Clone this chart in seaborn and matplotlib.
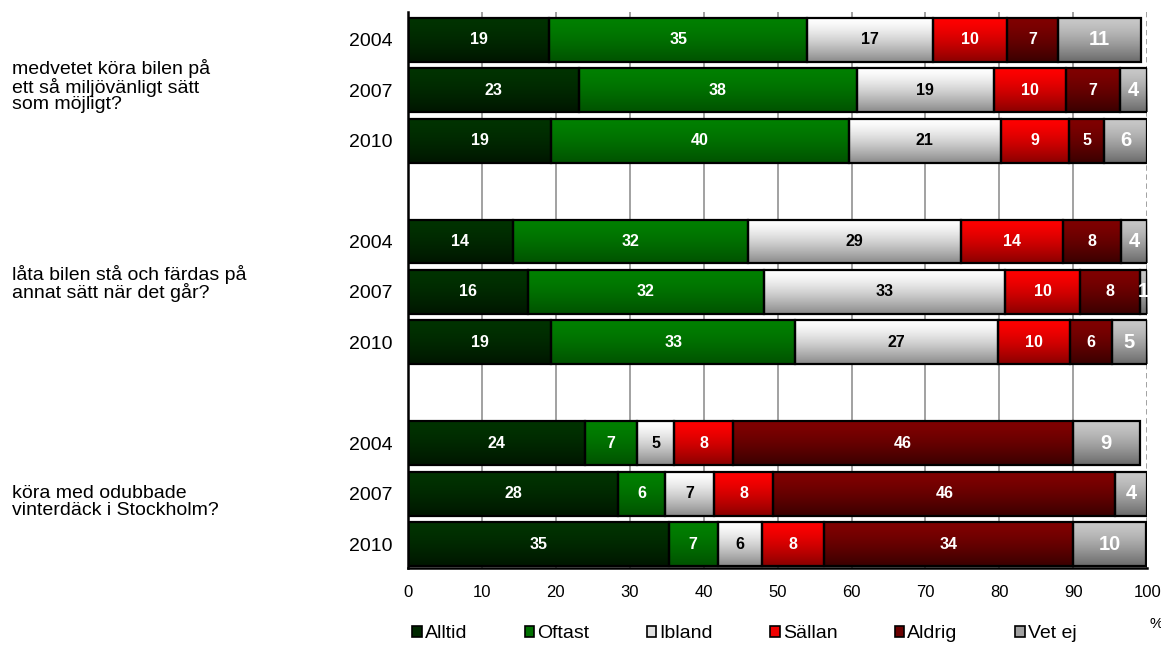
import matplotlib
matplotlib.use("Agg")
import matplotlib.pyplot as plt
import matplotlib.transforms as mtransforms
from matplotlib.colors import to_rgb
from matplotlib.patches import Patch
import seaborn as sns
import numpy as np
import pandas as pd

sns.set_style("white")
plt.rcParams['font.family'] = ['Liberation Sans', 'DejaVu Sans']
plt.rcParams['text.color'] = 'black'
plt.rcParams['xtick.color'] = 'black'
plt.rcParams['ytick.color'] = 'black'

categories = ['Alltid', 'Oftast', 'Ibland', 'Sällan', 'Aldrig', 'Vet ej']
years = ['2004', '2007', '2010']
questions = ['medvetet köra bilen på\nett så miljövänligt sätt\nsom möjligt?',
             'låta bilen stå och färdas på\nannat sätt när det går?',
             'köra med odubbade\nvinterdäck i Stockholm?']

# one value per question/year row, in order q1-2004 .. q3-2010
alltid = [19.1, 23.1, 19.4, 14.2, 16.3, 19.4, 24.0, 28.4, 35.3]
oftast = [34.9, 37.6, 40.2, 31.8, 31.8, 33.0, 7.0, 6.4, 6.6]
ibland = [17.0, 18.6, 20.6, 28.8, 32.7, 27.4, 5.0, 6.6, 6.0]
sallan = [10.0, 9.7, 9.2, 13.8, 10.1, 9.8, 8.0, 8.0, 8.4]
aldrig = [7.0, 7.3, 4.8, 7.8, 8.1, 5.6, 45.9, 46.3, 33.7]
vet_ej = [11.1, 3.7, 5.8, 3.6, 1.0, 4.8, 9.1, 4.3, 9.9]

series = [alltid, oftast, ibland, sallan, aldrig, vet_ej]

# gradient top / bottom colours per category
top_cols = ['#003300', '#008000', '#ffffff', '#ff0000', '#800000', '#c8c8c8']
bot_cols = ['#001600', '#005200', '#8a8a8a', '#8a0000', '#3a0000', '#6a6a6a']
legend_cols = ['#002800', '#007000', '#e0e0e0', '#f00000', '#6a0000', '#a0a0a0']
label_cols = ['white', 'white', 'black', 'white', 'white', 'white']
label_size = [11.5, 11.5, 11.5, 11.5, 11.5, 14.5]

rows = []
for qi in range(len(questions)):
    for yi, yr in enumerate(years):
        r = qi * 3 + yi
        left = 0.0
        for ci, cat in enumerate(categories):
            v = series[ci][r]
            rows.append(dict(q=qi, year=yr, pos=qi * 4 + yi, cat=cat, value=v, left=left))
            left += v
df = pd.DataFrame(rows)

fig = plt.figure(figsize=(11.61, 6.46), dpi=100)
ax = fig.add_axes([0.3514, 0.1207, 0.6367, 0.8607])

for ci, cat in enumerate(categories):
    sub = df[df.cat == cat].sort_values('pos')
    sns.barplot(data=sub, x='value', y='pos', orient='y', native_scale=True,
                left=sub['left'].to_numpy(), width=0.87, color=top_cols[ci],
                saturation=1, errorbar=None, edgecolor='black', linewidth=1.6,
                ax=ax, zorder=3)
    cont = ax.containers[-1]
    # vertical gradient fill for each segment
    c0 = np.array(to_rgb(top_cols[ci]))
    c1 = np.array(to_rgb(bot_cols[ci]))
    t = np.linspace(0, 1, 64)[:, None]
    t = t ** 1.4
    grad = (c0 * (1 - t) + c1 * t)[:, None, :]
    for p in cont.patches:
        x, y, w, h = p.get_x(), p.get_y(), p.get_width(), p.get_height()
        ax.imshow(grad, extent=(x, x + w, y + h, y), origin='upper',
                  aspect='auto', interpolation='bilinear', zorder=2.5)
        p.set_facecolor('none')
    ax.bar_label(cont, labels=[f"{round(v)}" for v in sub['value']],
                 label_type='center', color=label_cols[ci], fontweight='bold',
                 fontsize=label_size[ci], zorder=4)

positions = sorted(df['pos'].unique())
ax.set_yticks(positions)
ax.set_yticklabels(years * len(questions), fontsize=14)
ax.set_xticks(range(0, 101, 10))
ax.set_xticklabels([str(v) for v in range(0, 101, 10)], fontsize=12)
ax.set_xlim(0, 100)
ax.set_ylim(10.476, -0.55)
ax.set_xlabel('')
ax.set_ylabel('')

ax.tick_params(axis='y', length=0, pad=11)
ax.tick_params(axis='x', direction='out', length=4, width=1.5, color='black', pad=8)
ax.grid(axis='x', color='#9a9a9a', linewidth=1.3, zorder=0)
ax.set_axisbelow(True)
ax.xaxis.get_gridlines()[-1].set_linestyle((0, (3, 2)))
ax.xaxis.get_gridlines()[0].set_visible(False)
for s in ['top', 'right']:
    ax.spines[s].set_visible(False)
for s in ['left', 'bottom']:
    ax.spines[s].set_color('black')
    ax.spines[s].set_linewidth(1.8)
    ax.spines[s].set_zorder(5)

# question texts
trans = mtransforms.blended_transform_factory(fig.transFigure, ax.transData)
q_offsets = [-0.08, -0.17, 0.17]
for qi, q in enumerate(questions):
    ax.text(0.0103, qi * 4 + 1 + q_offsets[qi], q, transform=trans, ha='left', va='center',
            fontsize=14, linespacing=0.95)

fig.text(1149 / 1161, 1 - 624 / 646, '%', fontsize=11, ha='left', va='center')

handles = [Patch(facecolor=legend_cols[i], edgecolor='black', linewidth=1.2)
           for i in range(len(categories))]
fig.legend(handles, categories, loc='center left', bbox_to_anchor=(412 / 1161, 1 - 634 / 646),
           ncol=6, frameon=False, fontsize=14, handlelength=0.5, handleheight=0.5,
           handletextpad=0.15, columnspacing=2.95, borderpad=0, borderaxespad=0)

fig.savefig('out.png', dpi=100)
